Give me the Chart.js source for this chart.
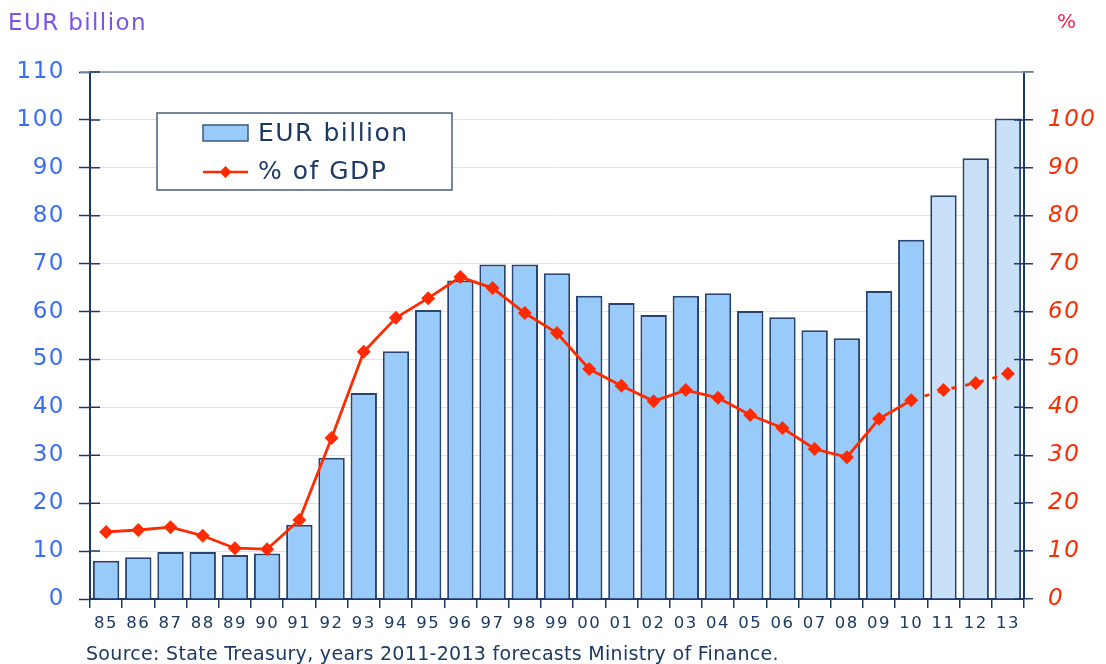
<!DOCTYPE html>
<html>
<head>
<meta charset="utf-8">
<script src="https://cdn.jsdelivr.net/npm/chart.js@4"></script>
<style>
  html, body { margin: 0; padding: 0; background: #fff; }
  #wrap { width: 1106px; height: 664px; position: relative; }
</style>
</head>
<body>
<div id="wrap"><canvas id="debtChart" width="1106" height="664"></canvas></div>
<script>
// Data
const years = ["85","86","87","88","89","90","91","92","93","94","95","96","97","98","99",
               "00","01","02","03","04","05","06","07","08","09","10","11","12","13"];
const debtBillion = [8.0, 8.7, 9.8, 9.8, 9.2, 9.5, 15.5, 29.5, 43.0, 51.7, 60.3, 66.5, 69.8, 69.8, 68.0,
                     63.3, 61.8, 59.3, 63.3, 63.8, 60.1, 58.8, 56.1, 54.4, 64.3, 75.0, 84.3, 92.0, 100.3];
const debtPctGdp = [14.0, 14.4, 15.0, 13.2, 10.6, 10.4, 16.5, 33.6, 51.6, 58.7, 62.8, 67.2, 64.9, 59.7, 55.5,
                    48.0, 44.5, 41.3, 43.6, 42.0, 38.4, 35.7, 31.3, 29.6, 37.6, 41.5, 43.6, 45.1, 47.0];
const forecastYears = ["11", "12", "13"];

const navy = "#1c3a66";
const barBlue = "#99cbfa";
const barForecast = "#c8e1f8";
const red = "#ff2a00";
const font = "'DejaVu Sans', Verdana, sans-serif";

const isForecast = years.map(y => forecastYears.includes(y));

// wider letter spacing for the axis texts (Verdana look)
const spacing = {
    id: "spacing",
    beforeDraw(chart) { chart.ctx.letterSpacing = "1.5px"; },
    beforeDatasetsDraw(chart) { chart.ctx.letterSpacing = "0px"; }
};

// extra texts, inner tick marks and legend box
const decorations = {
    id: "decorations",
    afterDraw(chart) {
        const c = chart.ctx;
        const area = chart.chartArea;
        const yl = chart.scales.y;
        c.save();
        c.letterSpacing = "0px";
        // top frame line
        c.strokeStyle = "#7f93aa";
        c.lineWidth = 1.5;
        c.beginPath();
        c.moveTo(area.left - 10, area.top);
        c.lineTo(area.right + 10, area.top);
        c.stroke();

        // tick marks crossing into the plot
        c.strokeStyle = navy;
        c.lineWidth = 1.5;
        yl.ticks.forEach(t => {
            const py = yl.getPixelForValue(t.value);
            c.beginPath();
            c.moveTo(area.left, py);
            c.lineTo(area.left + 10, py);
            if (t.value <= 100) {
                c.moveTo(area.right - 10, py);
                c.lineTo(area.right, py);
            }
            c.stroke();
        });

        c.textBaseline = "middle";
        c.textAlign = "left";
        c.letterSpacing = "1.4px";
        c.font = "23px " + font;
        c.fillStyle = "#7a52f2";
        c.fillText("EUR billion", 8, 24);
        c.letterSpacing = "0px";
        c.fillStyle = "#f0284a";
        c.font = "20px " + font;
        c.fillText("%", 1057, 23);

        c.fillStyle = navy;
        c.letterSpacing = "0.3px";
        c.font = "19px " + font;
        c.fillText("Source: State Treasury, years 2011-2013 forecasts Ministry of Finance.", 86, 655);

        // legend
        c.letterSpacing = "0px";
        c.fillStyle = "#fff";
        c.fillRect(157, 113, 295, 77);
        c.strokeStyle = "#4a5f7c";
        c.lineWidth = 1.5;
        c.strokeRect(157, 113, 295, 77);
        c.fillStyle = barBlue;
        c.fillRect(203, 125, 45, 16);
        c.strokeStyle = "#3d5a80";
        c.strokeRect(203, 125, 45, 16);
        c.strokeStyle = red;
        c.lineWidth = 2.5;
        c.beginPath();
        c.moveTo(203, 172);
        c.lineTo(248, 172);
        c.stroke();
        c.fillStyle = red;
        c.beginPath();
        c.moveTo(225.5, 166);
        c.lineTo(231.5, 172);
        c.lineTo(225.5, 178);
        c.lineTo(219.5, 172);
        c.closePath();
        c.fill();
        c.fillStyle = navy;
        c.letterSpacing = "1.5px";
        c.font = "25px " + font;
        c.fillText("EUR billion", 258, 134);
        c.fillText("% of GDP", 258, 172);
        c.restore();
    }
};

const ctx = document.getElementById("debtChart").getContext("2d");
const debtChart = new Chart(ctx, {
    type: "bar",
    data: {
        labels: years,
        datasets: [
            {
                type: "line",
                label: "% of GDP",
                data: debtPctGdp,
                yAxisID: "y1",
                borderColor: red,
                backgroundColor: red,
                borderWidth: 2.8,
                pointStyle: "rectRot",
                pointRadius: 7,
                pointBackgroundColor: red,
                pointBorderWidth: 0,
                tension: 0,
                order: 0,
                segment: {
                    borderDash: s => isForecast[s.p1DataIndex] ? [5, 9] : undefined
                }
            },
            {
                label: "EUR billion",
                data: debtBillion,
                yAxisID: "y",
                backgroundColor: isForecast.map(f => f ? barForecast : barBlue),
                borderColor: "#284570",
                borderWidth: 2,
                borderSkipped: "bottom",
                barPercentage: 0.82,
                categoryPercentage: 1.0,
                order: 1
            }
        ]
    },
    options: {
        responsive: false,
        animation: false,
        layout: { padding: { top: 72, left: 0, right: 0, bottom: 0 } },
        plugins: { legend: { display: false }, tooltip: { enabled: false } },
        scales: {
            x: {
                offset: true,
                grid: { drawOnChartArea: false, offset: true, color: navy, tickLength: 9, lineWidth: 1.5 },
                border: { color: navy, width: 2 },
                ticks: { color: navy, font: { family: font, size: 16.5 }, padding: 6, maxRotation: 0, autoSkip: false },
                afterFit: s => { s.height = 65; }
            },
            y: {
                position: "left",
                min: 0, max: 110,
                ticks: { stepSize: 10, color: "#3a6cf5", font: { family: font, size: 23 }, padding: 14 },
                grid: { color: "#dde3ea", lineWidth: 1, tickLength: 11, tickColor: navy, tickWidth: 1.5 },
                border: { color: navy, width: 2 },
                afterFit: s => { s.width = 90; }
            },
            y1: {
                position: "right",
                min: 0, max: 110,
                ticks: {
                    stepSize: 10, color: red,
                    font: { family: font, size: 23, style: "italic" }, padding: 15,
                    callback: v => v > 100 ? "" : v
                },
                grid: { drawOnChartArea: false, tickLength: 9, color: navy, lineWidth: 1.5 },
                border: { color: navy, width: 2 },
                afterFit: s => { s.width = 82; }
            }
        }
    },
    plugins: [spacing, decorations]
});
</script>
</body>
</html>
